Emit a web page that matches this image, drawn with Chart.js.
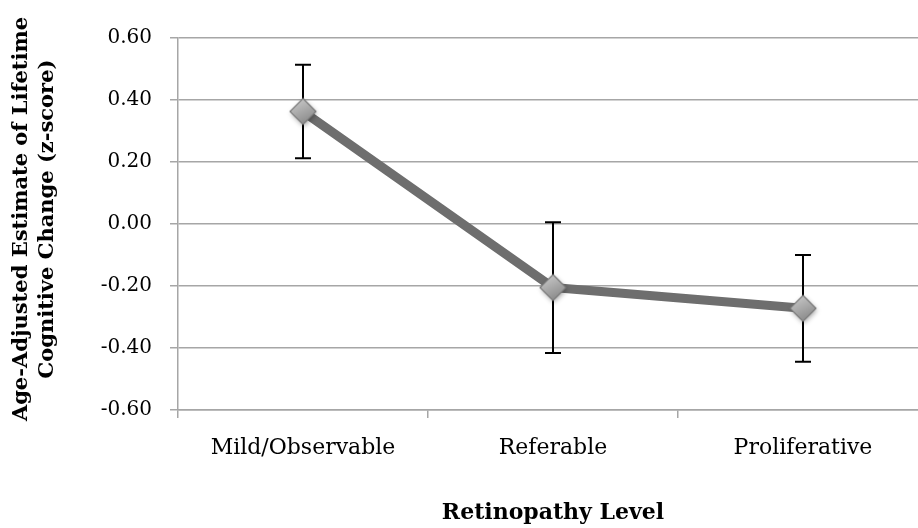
<!DOCTYPE html>
<html>
<head>
<meta charset="utf-8">
<script src="https://cdn.jsdelivr.net/npm/chart.js@4.4.1/dist/chart.umd.min.js"></script>
<style>
  html, body { margin: 0; padding: 0; background: #ffffff; overflow: hidden; }
  #frame { width: 918px; height: 528px; overflow: hidden; position: relative; }
  #frame canvas { display: block; position: absolute; left: 0; top: 0; }
</style>
</head>
<body>
<div id="frame">
  <canvas id="chart" width="928" height="528" style="width:928px;height:528px"></canvas>
</div>
<script>
// Retinopathy level categories and the age-adjusted estimates (z-score)
const categories = ['Mild/Observable', 'Referable', 'Proliferative'];
const estimates = [0.363, -0.205, -0.272];
const errorMargins = [0.151, 0.211, 0.172];
const yTickValues = [-0.6, -0.4, -0.2, 0, 0.2, 0.4, 0.6];
const yTitleLines = ['Age-Adjusted Estimate of Lifetime', 'Cognitive Change (z-score)'];
const xTitle = 'Retinopathy Level';

const SERIF = '"DejaVu Serif", "Liberation Serif", serif';
const GRID = '#a6a6a6';

// Shaded diamond marker with a soft drop shadow
function makeDiamond(r) {
  const size = 2 * r + 16;
  const c = document.createElement('canvas');
  c.width = size; c.height = size;
  const g = c.getContext('2d');
  const m = size / 2;
  g.shadowColor = 'rgba(0,0,0,0.35)';
  g.shadowBlur = 5;
  g.shadowOffsetX = 1;
  g.shadowOffsetY = 2;
  const grad = g.createLinearGradient(m - r / 2, m - r, m + r / 2, m + r);
  grad.addColorStop(0, '#c9c9c9');
  grad.addColorStop(1, '#858585');
  g.beginPath();
  g.moveTo(m, m - r);
  g.lineTo(m + r, m);
  g.lineTo(m, m + r);
  g.lineTo(m - r, m);
  g.closePath();
  g.fillStyle = grad;
  g.fill();
  g.shadowColor = 'transparent';
  g.lineWidth = 1.2;
  g.strokeStyle = '#7a7a7a';
  g.stroke();
  return c;
}
const diamond = makeDiamond(13);

// Vertical error bars with caps, drawn beneath the line and markers
const errorBars = {
  id: 'errorBars',
  beforeDatasetsDraw(chart) {
    const { ctx, scales: { x, y } } = chart;
    ctx.save();
    ctx.strokeStyle = '#000000';
    ctx.lineWidth = 2;
    const cap = 8;
    estimates.forEach((v, i) => {
      const px = x.getPixelForValue(i);
      const top = y.getPixelForValue(v + errorMargins[i]);
      const bot = y.getPixelForValue(v - errorMargins[i]);
      ctx.beginPath();
      ctx.moveTo(px, top); ctx.lineTo(px, bot);
      ctx.moveTo(px - cap, top); ctx.lineTo(px + cap, top);
      ctx.moveTo(px - cap, bot); ctx.lineTo(px + cap, bot);
      ctx.stroke();
    });
    ctx.restore();
  }
};

// Two-line rotated y-axis title
const yAxisTitle = {
  id: 'yAxisTitle',
  afterDraw(chart) {
    const { ctx } = chart;
    const lh = 26;
    ctx.save();
    ctx.translate(22, 219);
    ctx.rotate(-Math.PI / 2);
    ctx.font = 'bold 21px ' + SERIF;
    ctx.fillStyle = '#000000';
    ctx.textAlign = 'center';
    ctx.textBaseline = 'middle';
    yTitleLines.forEach((t, i) => ctx.fillText(t, 0, i * lh));
    ctx.restore();
  }
};

new Chart(document.getElementById('chart'), {
  type: 'line',
  data: {
    labels: categories,
    datasets: [
      {
        label: 'markers',
        data: estimates,
        showLine: false,
        pointStyle: diamond,
        pointRadius: 13,
        order: 0
      },
      {
        label: 'estimate',
        data: estimates,
        borderColor: '#6e6e6e',
        borderWidth: 9,
        pointRadius: 0,
        tension: 0,
        borderCapStyle: 'butt',
        borderJoinStyle: 'round',
        order: 1
      }
    ]
  },
  options: {
    responsive: false,
    animation: false,
    events: [],
    devicePixelRatio: 1,
    layout: {
      autoPadding: false,
      padding: { top: 38, right: 0, left: 0, bottom: 0 }
    },
    plugins: {
      legend: { display: false },
      tooltip: { enabled: false }
    },
    scales: {
      x: {
        offset: true,
        grid: {
          display: true,
          offset: true,
          drawOnChartArea: false,
          drawTicks: true,
          tickLength: 8,
          color: GRID,
          lineWidth: 1.5
        },
        border: { color: GRID, width: 1.5 },
        ticks: {
          color: '#000000',
          font: { family: SERIF, size: 22 },
          padding: 17,
          maxRotation: 0
        },
        title: {
          display: true,
          text: xTitle,
          color: '#000000',
          font: { family: SERIF, size: 22, weight: 'bold' },
          padding: { top: 0, bottom: 2 }
        },
        afterFit(scale) {
          scale.height = 118;
          scale.paddingLeft = 0;
          scale.paddingRight = 0;
        }
      },
      y: {
        min: -0.6,
        max: 0.6,
        afterBuildTicks(scale) {
          scale.ticks = yTickValues.map(v => ({ value: v }));
        },
        grid: {
          color: GRID,
          lineWidth: 1.5,
          tickLength: 8
        },
        border: { color: GRID, width: 1.5 },
        ticks: {
          color: '#000000',
          font: { family: SERIF, size: 20 },
          padding: 18,
          callback(v) {
            const s = Number(v).toFixed(2);
            return s === '-0.00' ? '0.00' : s;
          }
        },
        afterFit(scale) { scale.width = 178; }
      }
    }
  },
  plugins: [errorBars, yAxisTitle]
});
</script>
</body>
</html>
